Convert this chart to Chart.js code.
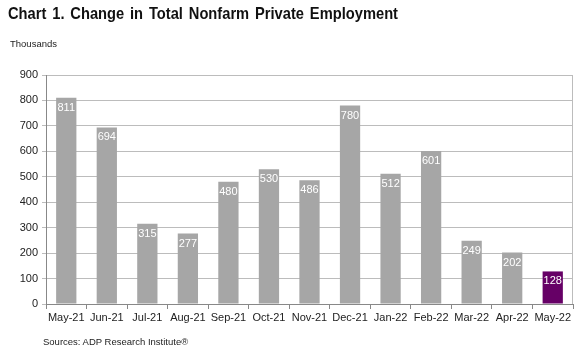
<!DOCTYPE html>
<html><head><meta charset="utf-8">
<script src="https://cdn.jsdelivr.net/npm/chart.js@4"></script>
<style>
html,body{margin:0;padding:0;background:#fff;}
#wrap{position:relative;width:584px;height:357px;font-family:"Liberation Sans",Arial,sans-serif;}
#title{position:absolute;left:8px;top:4px;font-size:16.5px;font-weight:bold;color:#111;white-space:nowrap;transform-origin:0 0;word-spacing:2px;}
#units{position:absolute;left:10px;top:38px;font-size:9.5px;color:#222;}
#src{position:absolute;left:43px;top:336px;font-size:9.5px;color:#222;}
canvas{position:absolute;left:0;top:0;}
</style></head><body>
<div id="wrap">
<canvas id="c" width="584" height="357"></canvas>
<div id="title">Chart 1. Change in Total Nonfarm Private Employment</div>
<div id="units">Thousands</div>
<div id="src">Sources: ADP Research Institute®</div>
</div>
<script>
const categories = ["May-21","Jun-21","Jul-21","Aug-21","Sep-21","Oct-21","Nov-21","Dec-21","Jan-22","Feb-22","Mar-22","Apr-22","May-22"];
const values = [811,694,315,277,480,530,486,780,512,601,249,202,128];
const yTicks = [0,100,200,300,400,500,600,700,800,900];

const grayBar = "#a6a6a6";
const highlight = "#660066";
const barColors = values.map((v,i)=> i===values.length-1 ? highlight : grayBar);

(function(){
  const t = document.getElementById("title");
  const w = t.getBoundingClientRect().width;
  t.style.transform = "scaleX(" + (390 / w) + ")";
})();

const labelPlugin = {
  id:"labels",
  afterDatasetsDraw(chart){
    const ctx = chart.ctx;
    const meta = chart.getDatasetMeta(0);
    ctx.save();
    ctx.font = "11px 'Liberation Sans', Arial, sans-serif";
    ctx.fillStyle = "#fff";
    ctx.textAlign = "center";
    ctx.textBaseline = "middle";
    meta.data.forEach((bar,i)=>{
      ctx.fillText(String(values[i]), bar.x, bar.y + 10);
    });
    ctx.restore();
  }
};
const borderPlugin = {
  id:"border",
  beforeDatasetsDraw(chart){
    const a = chart.chartArea, ctx = chart.ctx;
    ctx.save();
    ctx.strokeStyle = "#bcbcbc";
    ctx.lineWidth = 1;
    ctx.beginPath();
    ctx.moveTo(Math.round(a.right)-0.5, a.top);
    ctx.lineTo(Math.round(a.right)-0.5, a.bottom);
    ctx.stroke();
    ctx.restore();
  }
};

new Chart(document.getElementById("c"), {
  type:"bar",
  data:{labels:categories, datasets:[{data:values, backgroundColor:barColors, barPercentage:0.5, categoryPercentage:1}]},
  options:{
    responsive:false, animation:false,
    layout:{padding:{left:0,right:11,top:75,bottom:0}},
    plugins:{legend:{display:false}, tooltip:{enabled:false}},
    scales:{
      x:{
        offset:true,
        grid:{offset:true, drawOnChartArea:false, color:"#888", tickLength:5},
        border:{color:"#888"},
        ticks:{color:"#222", font:{family:"'Liberation Sans', Arial, sans-serif", size:11}, maxRotation:0, autoSkip:false, padding:2},
        afterFit(s){ s.height = 53; }
      },
      y:{
        min:0, max:900,
        afterBuildTicks(s){ s.ticks = yTicks.map(v=>({value:v})); },
        grid:{color:"#bcbcbc", tickLength:4},
        border:{color:"#888"},
        ticks:{color:"#222", font:{family:"'Liberation Sans', Arial, sans-serif", size:11}, padding:4},
        afterFit(s){ s.width = 46; }
      }
    }
  },
  plugins:[labelPlugin, borderPlugin]
});
</script>
</body></html>
